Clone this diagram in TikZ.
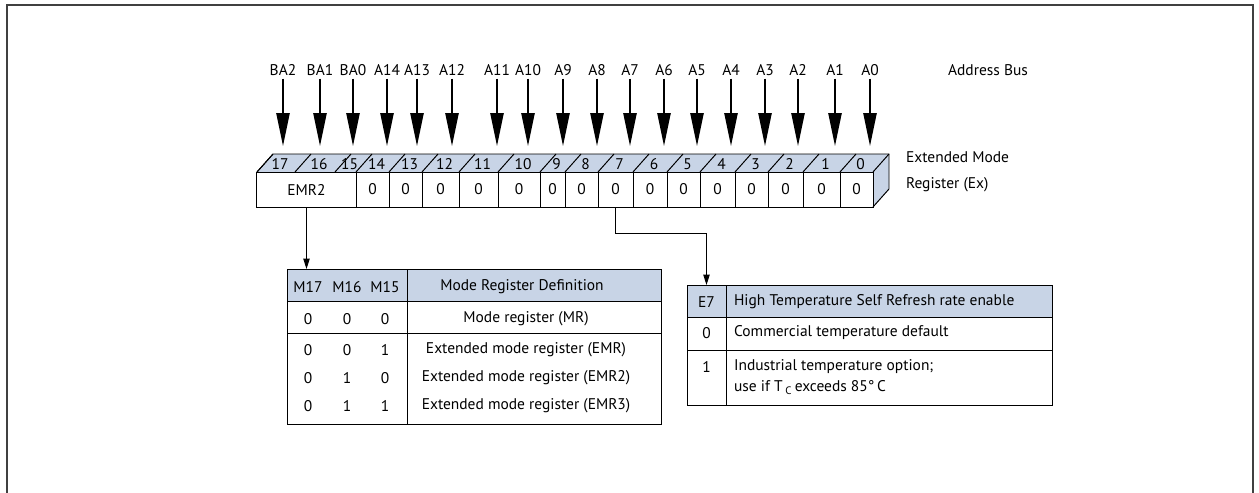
\documentclass[tikz,border=0pt]{standalone}
\usepackage{fontspec}
\setmainfont{PT Sans}
\usetikzlibrary{arrows.meta}

\definecolor{regblue}{RGB}{200,212,230}

\tikzset{
  txt/.style={inner sep=2pt, font=\fontsize{11}{15}\selectfont},
  bitarrow/.style={line width=1.1pt, -{Triangle[width=0.33cm, length=0.82cm]}},
  linkarrow/.style={line width=0.7pt, -{Triangle[width=0.16cm, length=0.26cm]}},
  cell/.style={txt, draw, line width=0.7pt, minimum height=0.875cm, inner sep=0pt},
  rule/.style={line width=0.7pt}
}

\begin{document}
\begin{tikzpicture}[x=0.025cm, y=-0.025cm]
\useasboundingbox (0,0) rectangle (1259,493);

% Outer frame, open at the bottom
\draw[line width=1.2pt, black!75] (7,493) -- (7,5) -- (1253,5) -- (1253,493);

% Address bus lines
\foreach \lbl/\x [count=\i] in {BA2/283, BA1/320, BA0/353, A14/387, A13/417, A12/452,
    A11/497, A10/528, A9/563, A8/597, A7/630, A6/664, A5/697, A4/731, A3/765, A2/798,
    A1/835, A0/870}{
  \node[txt] (bus\i) at (\x,70) {\lbl};
  \coordinate (tip\i) at (\x,146);
  \draw[bitarrow] (bus\i.south) -- (tip\i);
}
\node[txt, anchor=west] (busname) at (945,70) {Address Bus};

% Register block: top and side faces
\fill[regblue] (257,172) -- (873,172) -- (889,154) -- (273,154) -- cycle;
\fill[regblue] (873,172) -- (889,154) -- (889,189) -- (873,207) -- cycle;
\draw[rule] (257,172) -- (273,154) -- (889,154) -- (889,189) -- (873,207);
\draw[rule] (873,172) -- (889,154);

% Bit numbers on the top face
\foreach \bit/\l/\r in {17/257/295, 16/295/335, 15/335/356, 14/356/389, 13/389/422,
    12/422/459, 11/459/498, 10/498/540, 9/540/565, 8/565/598, 7/598/633, 6/633/667,
    5/667/700, 4/700/735, 3/735/768, 2/768/803, 1/803/840, 0/840/873}{
  \draw[rule] (\l,172) -- ++(16,-18);
  \node[txt] (top\bit) at ({(\l+\r)/2+4},164) {\bit};
}

% Register front face
\node[cell, minimum width=2.475cm] (emr) at (306.5,189.5) {EMR2};
\foreach \bit/\l/\r in {14/356/389, 13/389/422, 12/422/459, 11/459/498, 10/498/540,
    9/540/565, 8/565/598, 7/598/633, 6/633/667, 5/667/700, 4/700/735, 3/735/768,
    2/768/803, 1/803/840, 0/840/873}{
  \node[cell, minimum width={(\r-\l)*0.025cm}] (c\bit) at ({(\l+\r)/2},189.5) {0};
}
\node[txt, anchor=west] (regname1) at (903,157) {Extended Mode};
\node[txt, anchor=west] (regname2) at (903,185) {Register (Ex)};

% Mode register table
\coordinate (mtop) at (287,269);
\fill[regblue] (287,269) rectangle (661,301);
\draw[rule] (287,269) rectangle (661,424);
\draw[rule] (287,301) -- (661,301);
\draw[rule] (287,333) -- (661,333);
\draw[rule] (407,269) -- (407,424);
\node[txt] (m17) at (308,287) {M17};
\node[txt] (m16) at (347,287) {M16};
\node[txt] (m15) at (385,287) {M15};
\node[txt] (mdef) at (522,287) {Mode Register Definition};
\foreach \a/\b/\c/\y/\what [count=\i] in {0/0/0/319/Mode register (MR),
    0/0/1/350/Extended mode register (EMR), 0/1/0/378/Extended mode register (EMR2),
    0/1/1/406/Extended mode register (EMR3)}{
  \node[txt] (ma\i) at (308,\y) {\a};
  \node[txt] (mb\i) at (347,\y) {\b};
  \node[txt] (mc\i) at (385,\y) {\c};
  \node[txt] (md\i) at (526,\y) {\what};
}

% Temperature table
\coordinate (etop) at (687,285);
\fill[regblue] (687,285) rectangle (1052,317);
\draw[rule] (687,285) rectangle (1052,405);
\draw[rule] (687,317) -- (1052,317);
\draw[rule] (687,350) -- (1052,350);
\draw[rule] (726,285) -- (726,405);
\node[txt] (e7) at (706.5,302) {E7};
\node[txt, anchor=west] (ehead) at (731,302) {High Temperature Self Refresh rate enable};
\node[txt] (ezero) at (706.5,333) {0};
\node[txt, anchor=west] (ecom) at (731,333) {Commercial temperature default};
\node[txt] (eone) at (706.5,367) {1};
\node[txt, anchor=west, align=left] (eind) at (731,377)
  {Industrial temperature option;\\use if T\,\textsubscript{C}\,exceeds 85°\,C};

% Links from the register to the tables
\draw[linkarrow] (emr.south) -- (emr.south |- mtop);
\draw[linkarrow] (c7.south) -- ++(0,26) -| (e7 |- etop);
\end{tikzpicture}
\end{document}
